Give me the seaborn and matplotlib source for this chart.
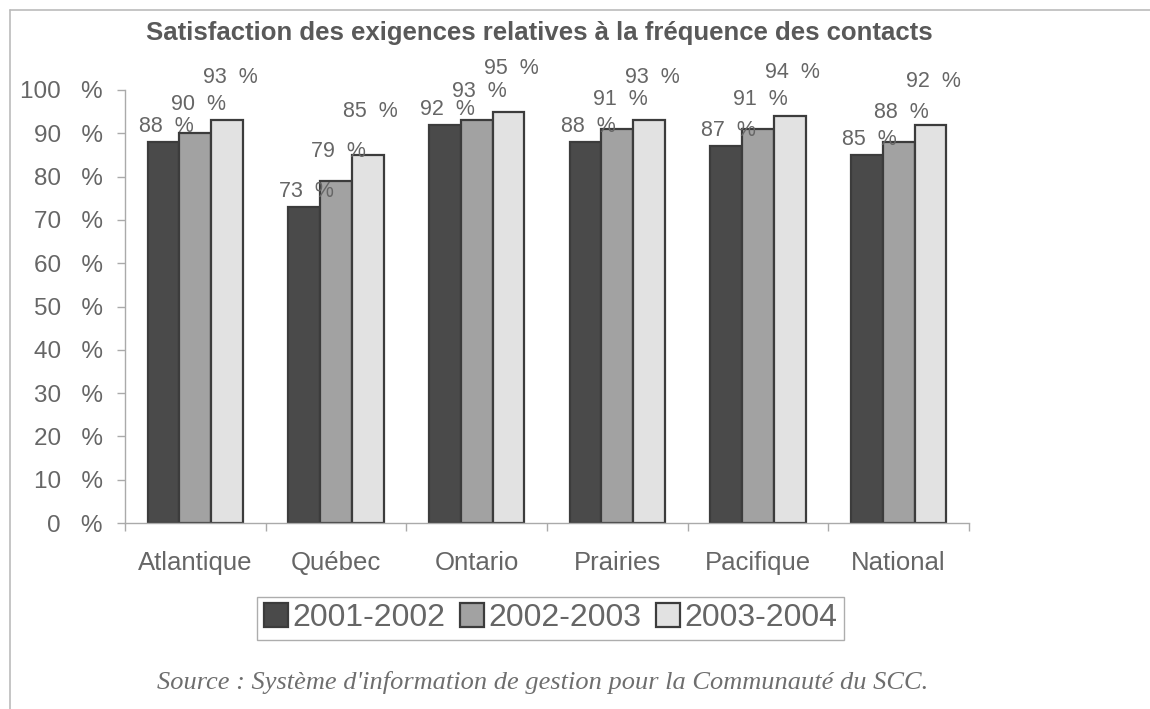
import matplotlib
matplotlib.use("Agg")
import matplotlib.pyplot as plt
from matplotlib.lines import Line2D
from matplotlib.ticker import FixedLocator
import seaborn as sns
import pandas as pd

# Regions and yearly satisfaction rates (%)
regions = ["Atlantique", "Québec", "Ontario", "Prairies", "Pacifique", "National"]
years = ["2001-2002", "2002-2003", "2003-2004"]
rate_2001_2002 = [88, 73, 92, 88, 87, 85]
rate_2002_2003 = [90, 79, 93, 91, 91, 88]
rate_2003_2004 = [93, 85, 95, 93, 94, 92]
y_ticks = [0, 10, 20, 30, 40, 50, 60, 70, 80, 90, 100]

title = "Satisfaction des exigences relatives à la fréquence des contacts"
source = "Source : Système d'information de gestion pour la Communauté du SCC."

df = pd.DataFrame({
    "Région": regions * 3,
    "Année": [y for y in years for _ in regions],
    "Taux": rate_2001_2002 + rate_2002_2003 + rate_2003_2004,
})

sns.set_theme(style="white")
plt.rcParams["font.family"] = ["Liberation Sans", "DejaVu Sans"]

text_col = "#666666"
palette = {"2001-2002": "#4a4a4a", "2002-2003": "#a2a2a2", "2003-2004": "#e2e2e2"}

fig = plt.figure(figsize=(11.5, 7.09), dpi=100, facecolor="white")
ax = fig.add_axes([0.1087, 0.2623, 0.7339, 0.6108])
ax.set_facecolor("white")

sns.barplot(data=df, x="Région", y="Taux", hue="Année", order=regions,
            hue_order=years, palette=palette, width=0.68, gap=0,
            edgecolor="#3c3c3c", linewidth=1.6, saturation=1,
            errorbar=None, ax=ax)

# value labels, staggered upward per series so they don't collide
offsets = [11, 21, 31]
for container, off in zip(ax.containers, offsets):
    for bar in container:
        v = bar.get_height()
        ax.annotate(f"{v:.0f}  %", (bar.get_x() + bar.get_width() / 2, v),
                    xytext=(2, off), textcoords="offset points",
                    ha="center", va="center", fontsize=15.5, color=text_col)

ax.set_ylim(0, 100)
ax.set_xlim(-0.5, len(regions) - 0.5)
ax.set_yticks(y_ticks)
ax.set_yticklabels([f"{t}   %" for t in y_ticks])
ax.set_xlabel("")
ax.set_ylabel("")

ax.xaxis.set_minor_locator(FixedLocator([i - 0.5 for i in range(len(regions) + 1)]))
ax.tick_params(axis="x", which="major", length=0, pad=20, labelsize=18.5,
               labelcolor=text_col)
ax.tick_params(axis="x", which="minor", length=6, color="#aaaaaa", width=1,
               direction="out", bottom=True)
ax.tick_params(axis="y", length=6, color="#aaaaaa", width=1, direction="out",
               left=True, pad=10, labelsize=17.5, labelcolor=text_col)

for side in ["top", "right"]:
    ax.spines[side].set_visible(False)
for side in ["left", "bottom"]:
    ax.spines[side].set_color("#aaaaaa")
    ax.spines[side].set_linewidth(1)

leg = ax.legend(loc="center", bbox_to_anchor=(0.479, 0.128),
                bbox_transform=fig.transFigure, ncol=3, frameon=True,
                fancybox=False, fontsize=23, handlelength=0.75,
                handleheight=0.75, handletextpad=0.15, columnspacing=0.45,
                borderpad=0.2, labelcolor=text_col, title=None)
leg.get_frame().set_edgecolor("#999999")
leg.get_frame().set_linewidth(1)

fig.text(0.469, 0.953, title, ha="center", va="center", fontsize=18.5,
         fontweight="bold", color="#595959")
fig.text(0.472, 0.037, source, ha="center", va="center", fontsize=19,
         style="italic", family=["Liberation Serif", "DejaVu Serif"],
         color="#6e6e6e")

# outer frame around the figure
fig.add_artist(Line2D([0.0087, 1.0], [0.9859, 0.9859], transform=fig.transFigure,
                      color="#bbbbbb", linewidth=1.2))
fig.add_artist(Line2D([0.0087, 0.0087], [0.0, 0.9859], transform=fig.transFigure,
                      color="#bbbbbb", linewidth=1.2))

fig.savefig("out.png", dpi=100, facecolor=fig.get_facecolor())
